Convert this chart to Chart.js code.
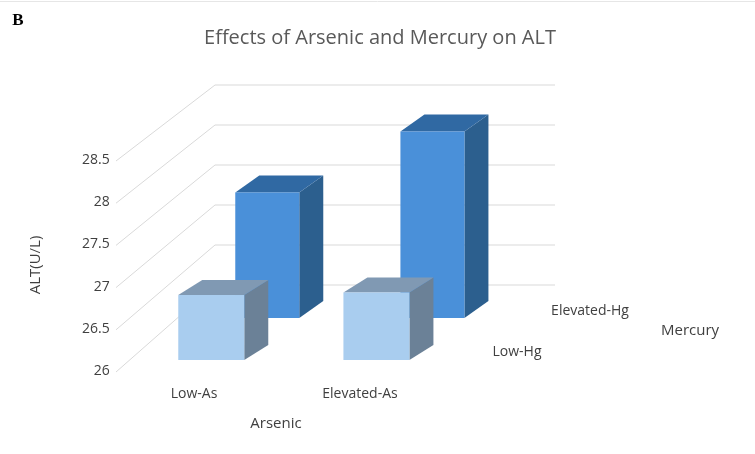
<!DOCTYPE html>
<html><head><meta charset="utf-8">
<script src="https://cdn.jsdelivr.net/npm/chart.js@4"></script>
<style>html,body{margin:0;padding:0;background:#fff}#w{width:755px;height:454px}</style>
</head><body><div id="w"><canvas id="c"></canvas></div>
<script>
const arsenicLabels = ['Low-As', 'Elevated-As'];
const mercuryLabels = ['Low-Hg', 'Elevated-Hg'];
const lowHg = [26.77, 26.8];
const elevatedHg = [27.75, 28.6];
const yTicks = [26, 26.5, 27, 27.5, 28, 28.5];

const FONT = '"Open Sans", "Noto Sans", sans-serif';

function box(ctx, x0, x1, yb, yt, dx, dy, cFront, cSide, cTop) {
  ctx.fillStyle = cSide;
  ctx.beginPath(); ctx.moveTo(x1, yb); ctx.lineTo(x1 + dx, yb + dy); ctx.lineTo(x1 + dx, yt + dy); ctx.lineTo(x1, yt); ctx.closePath(); ctx.fill();
  ctx.fillStyle = cTop;
  ctx.beginPath(); ctx.moveTo(x0, yt); ctx.lineTo(x1, yt); ctx.lineTo(x1 + dx, yt + dy); ctx.lineTo(x0 + dx, yt + dy); ctx.closePath(); ctx.fill();
  ctx.fillStyle = cFront;
  ctx.fillRect(x0, yt, x1 - x0, yb - yt);
}

const threeD = {
  id: 'threeD',
  beforeDatasetsDraw(chart) {
    const ctx = chart.ctx, y = chart.scales.y, x = chart.scales.x;
    const y0 = y.getPixelForValue(26);
    const SH = -1;
    ctx.save();
    ctx.strokeStyle = '#d9d9d9'; ctx.lineWidth = 1;
    yTicks.forEach((v) => {
      const yf = y.getPixelForValue(v);
      const yb = 285 - (v - 26) * 80;
      ctx.beginPath(); ctx.moveTo(116, yf + 1); ctx.lineTo(215, yb); ctx.lineTo(555, yb); ctx.stroke();
    });
    elevatedHg.forEach((v, i) => {
      const cx = x.getPixelForValue(i) + SH + 56;
      const yb = y0 - 53, yt = yb - (y0 - y.getPixelForValue(v)) * 0.85;
      box(ctx, cx - 32, cx + 32, yb, yt, 24, -17, '#4a90d9', '#2c5f8e', '#3069a3');
    });
    lowHg.forEach((v, i) => {
      const cx = x.getPixelForValue(i) + SH;
      const yb = y0 - 11, yt = yb - (y0 - y.getPixelForValue(v));
      box(ctx, cx - 33, cx + 33, yb, yt, 24, -15, '#a9cdef', '#6b8197', '#8099b3');
    });
    ctx.fillStyle = '#595959'; ctx.textAlign = 'center'; ctx.textBaseline = 'middle';
    ctx.font = '20px ' + FONT;
    ctx.fillText('Effects of Arsenic and Mercury on ALT', 380, 38);
    ctx.font = '14px ' + FONT; ctx.fillStyle = '#404040';
    const lx = [194, 360];
    arsenicLabels.forEach((l, i) => ctx.fillText(l, lx[i], 394));
    ctx.fillText(mercuryLabels[0], 517, 352);
    ctx.fillText(mercuryLabels[1], 590, 311);
    ctx.font = '15px ' + FONT;
    ctx.fillText('Arsenic', 276, 424);
    ctx.fillText('Mercury', 690, 331);
    ctx.save(); ctx.translate(36, 265); ctx.rotate(-Math.PI / 2); ctx.fillText('ALT(U/L)', 0, 0); ctx.restore();
    ctx.fillStyle = '#000'; ctx.font = 'bold 17px "Liberation Serif", serif';
    ctx.fillText('B', 18, 21);
    ctx.strokeStyle = '#e6e6e6'; ctx.beginPath(); ctx.moveTo(0, 1.5); ctx.lineTo(755, 1.5); ctx.stroke();
    ctx.restore();
  }
};

new Chart(document.getElementById('c'), {
  type: 'bar',
  data: { labels: arsenicLabels, datasets: [
    { label: 'Low-Hg', data: lowHg, backgroundColor: 'rgba(0,0,0,0)' },
    { label: 'Elevated-Hg', data: elevatedHg, backgroundColor: 'rgba(0,0,0,0)' }
  ]},
  options: {
    responsive: true, maintainAspectRatio: false, animation: false,
    layout: { padding: { top: 160, bottom: 83, left: 70, right: 295 } },
    plugins: { legend: { display: false }, tooltip: { enabled: false }, title: { display: false } },
    scales: {
      x: { display: false },
      y: { min: 26, max: 28.5, afterBuildTicks: s => { s.ticks = yTicks.map(v => ({ value: v })); },
           grid: { display: false }, border: { display: false },
           ticks: { color: '#404040', font: { size: 14, family: FONT }, padding: 12, callback: v => String(v) } }
    }
  },
  plugins: [threeD]
});
</script></body></html>
